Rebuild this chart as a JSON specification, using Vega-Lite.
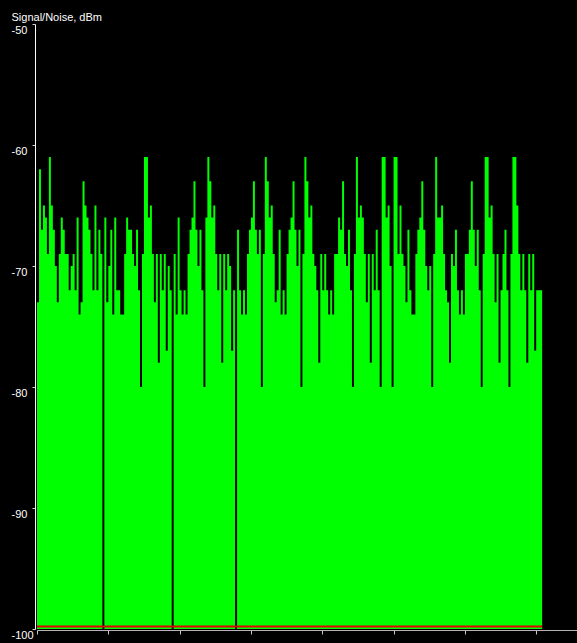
{
  "$schema": "https://vega.github.io/schema/vega-lite/v6.json",
  "width": 540,
  "height": 605,
  "autosize": {"type": "none"},
  "padding": {"left": 37, "top": 24, "right": 0, "bottom": 14},
  "background": "#000000",
  "config": {"view": {"stroke": null}, "axis": {"grid": false}},
  "data": {"values": [
    {"i":0,"v":-73},{"i":1,"v":-62},{"i":2,"v":-67},{"i":3,"v":-65},{"i":4,"v":-66},{"i":5,"v":-69},{"i":6,"v":-61},{"i":7,"v":-65},{"i":8,"v":-67},{"i":9,"v":-70},
    {"i":10,"v":-73},{"i":11,"v":-69},{"i":12,"v":-66},{"i":13,"v":-67},{"i":14,"v":-69},{"i":15,"v":-69},{"i":16,"v":-72},{"i":17,"v":-70},{"i":18,"v":-69},{"i":19,"v":-72},
    {"i":20,"v":-66},{"i":21,"v":-74},{"i":22,"v":-73},{"i":23,"v":-63},{"i":24,"v":-65},{"i":25,"v":-66},{"i":26,"v":-67},{"i":27,"v":-69},{"i":28,"v":-72},{"i":29,"v":-65},
    {"i":30,"v":-72},{"i":31,"v":-67},{"i":32,"v":-69},{"i":33,"v":-100},{"i":34,"v":-66},{"i":35,"v":-73},{"i":36,"v":-70},{"i":37,"v":-67},{"i":38,"v":-74},{"i":39,"v":-66},
    {"i":40,"v":-72},{"i":41,"v":-72},{"i":42,"v":-74},{"i":43,"v":-74},{"i":44,"v":-69},{"i":45,"v":-66},{"i":46,"v":-67},{"i":47,"v":-67},{"i":48,"v":-69},{"i":49,"v":-70},
    {"i":50,"v":-67},{"i":51,"v":-72},{"i":52,"v":-80},{"i":53,"v":-69},{"i":54,"v":-61},{"i":55,"v":-61},{"i":56,"v":-66},{"i":57,"v":-65},{"i":58,"v":-69},{"i":59,"v":-73},
    {"i":60,"v":-69},{"i":61,"v":-78},{"i":62,"v":-69},{"i":63,"v":-72},{"i":64,"v":-69},{"i":65,"v":-77},{"i":66,"v":-70},{"i":67,"v":-72},{"i":68,"v":-100},{"i":69,"v":-69},
    {"i":70,"v":-74},{"i":71,"v":-66},{"i":72,"v":-72},{"i":73,"v":-74},{"i":74,"v":-72},{"i":75,"v":-74},{"i":76,"v":-69},{"i":77,"v":-67},{"i":78,"v":-66},{"i":79,"v":-63},
    {"i":80,"v":-67},{"i":81,"v":-70},{"i":82,"v":-67},{"i":83,"v":-72},{"i":84,"v":-80},{"i":85,"v":-66},{"i":86,"v":-61},{"i":87,"v":-63},{"i":88,"v":-66},{"i":89,"v":-65},
    {"i":90,"v":-69},{"i":91,"v":-72},{"i":92,"v":-69},{"i":93,"v":-78},{"i":94,"v":-69},{"i":95,"v":-72},{"i":96,"v":-69},{"i":97,"v":-70},{"i":98,"v":-77},{"i":99,"v":-72},
    {"i":100,"v":-100},{"i":101,"v":-67},{"i":102,"v":-72},{"i":103,"v":-74},{"i":104,"v":-72},{"i":105,"v":-74},{"i":106,"v":-69},{"i":107,"v":-67},{"i":108,"v":-66},{"i":109,"v":-63},
    {"i":110,"v":-67},{"i":111,"v":-69},{"i":112,"v":-67},{"i":113,"v":-80},{"i":114,"v":-69},{"i":115,"v":-61},{"i":116,"v":-63},{"i":117,"v":-66},{"i":118,"v":-65},{"i":119,"v":-69},
    {"i":120,"v":-73},{"i":121,"v":-72},{"i":122,"v":-67},{"i":123,"v":-74},{"i":124,"v":-72},{"i":125,"v":-74},{"i":126,"v":-69},{"i":127,"v":-67},{"i":128,"v":-66},{"i":129,"v":-63},
    {"i":130,"v":-67},{"i":131,"v":-70},{"i":132,"v":-67},{"i":133,"v":-80},{"i":134,"v":-69},{"i":135,"v":-61},{"i":136,"v":-63},{"i":137,"v":-66},{"i":138,"v":-65},{"i":139,"v":-69},
    {"i":140,"v":-70},{"i":141,"v":-72},{"i":142,"v":-78},{"i":143,"v":-69},{"i":144,"v":-72},{"i":145,"v":-69},{"i":146,"v":-72},{"i":147,"v":-74},{"i":148,"v":-72},{"i":149,"v":-74},
    {"i":150,"v":-69},{"i":151,"v":-69},{"i":152,"v":-66},{"i":153,"v":-67},{"i":154,"v":-63},{"i":155,"v":-69},{"i":156,"v":-70},{"i":157,"v":-67},{"i":158,"v":-72},{"i":159,"v":-80},
    {"i":160,"v":-69},{"i":161,"v":-61},{"i":162,"v":-66},{"i":163,"v":-65},{"i":164,"v":-66},{"i":165,"v":-69},{"i":166,"v":-73},{"i":167,"v":-69},{"i":168,"v":-78},{"i":169,"v":-69},
    {"i":170,"v":-72},{"i":171,"v":-67},{"i":172,"v":-72},{"i":173,"v":-80},{"i":174,"v":-61},{"i":175,"v":-61},{"i":176,"v":-66},{"i":177,"v":-65},{"i":178,"v":-70},{"i":179,"v":-80},
    {"i":180,"v":-61},{"i":181,"v":-61},{"i":182,"v":-69},{"i":183,"v":-65},{"i":184,"v":-69},{"i":185,"v":-70},{"i":186,"v":-73},{"i":187,"v":-67},{"i":188,"v":-72},{"i":189,"v":-74},
    {"i":190,"v":-74},{"i":191,"v":-69},{"i":192,"v":-67},{"i":193,"v":-66},{"i":194,"v":-63},{"i":195,"v":-67},{"i":196,"v":-70},{"i":197,"v":-72},{"i":198,"v":-70},{"i":199,"v":-80},
    {"i":200,"v":-69},{"i":201,"v":-61},{"i":202,"v":-66},{"i":203,"v":-66},{"i":204,"v":-65},{"i":205,"v":-69},{"i":206,"v":-72},{"i":207,"v":-73},{"i":208,"v":-78},{"i":209,"v":-69},
    {"i":210,"v":-70},{"i":211,"v":-67},{"i":212,"v":-72},{"i":213,"v":-74},{"i":214,"v":-72},{"i":215,"v":-74},{"i":216,"v":-69},{"i":217,"v":-69},{"i":218,"v":-67},{"i":219,"v":-63},
    {"i":220,"v":-67},{"i":221,"v":-70},{"i":222,"v":-67},{"i":223,"v":-72},{"i":224,"v":-80},{"i":225,"v":-69},{"i":226,"v":-61},{"i":227,"v":-61},{"i":228,"v":-66},{"i":229,"v":-65},
    {"i":230,"v":-69},{"i":231,"v":-73},{"i":232,"v":-69},{"i":233,"v":-78},{"i":234,"v":-72},{"i":235,"v":-69},{"i":236,"v":-67},{"i":237,"v":-72},{"i":238,"v":-80},{"i":239,"v":-69},
    {"i":240,"v":-61},{"i":241,"v":-61},{"i":242,"v":-65},{"i":243,"v":-69},{"i":244,"v":-72},{"i":245,"v":-69},{"i":246,"v":-72},{"i":247,"v":-78},{"i":248,"v":-69},{"i":249,"v":-72},
    {"i":250,"v":-69},{"i":251,"v":-77},{"i":252,"v":-72},{"i":253,"v":-72},{"i":254,"v":-72},{"i":255,"v":-72}
  ]},
  "layer": [
    {
      "mark": {"type": "area", "interpolate": "step-after", "color": "#00ff00"},
      "encoding": {
        "x": {
          "field": "i", "type": "quantitative", "title": null,
          "scale": {"domain": [0, 272.6], "nice": false, "zero": false},
          "axis": {"values": [0, 36, 72, 108, 144, 180, 216, 252], "labels": false, "tickSize": 4, "tickColor": "#c8c8c8", "domainColor": "#b4b4b4", "offset": 1}
        },
        "y": {
          "field": "v", "type": "quantitative", "title": "Signal/Noise, dBm",
          "scale": {"domain": [-100, -50], "nice": false, "zero": false},
          "axis": {
            "values": [-100, -90, -80, -70, -60, -50], "offset": 2, "tickSize": 3,
            "tickColor": "#d0d0d0", "domainColor": "#ffffff",
            "labelExpr": "'-' + format(abs(datum.value), 'd')",
            "labelAlign": "left", "labelBaseline": "top", "labelPadding": 21, "labelFlush": false, "labelOverlap": false,
            "labelColor": "#ffffff", "labelFont": "Liberation Sans", "labelFontSize": 11,
            "titleAngle": 0, "titleX": -24, "titleY": -4, "titleAlign": "left", "titleBaseline": "alphabetic",
            "titleColor": "#ffffff", "titleFont": "Liberation Sans", "titleFontSize": 11, "titleFontWeight": "normal"
          }
        },
        "y2": {"datum": -100}
      }
    },
    {
      "data": {"values": [{"start": 0, "end": 255, "floor": -99.8}]},
      "mark": {"type": "rule", "color": "#e00000", "strokeWidth": 2},
      "encoding": {
        "x": {"field": "start", "type": "quantitative", "title": null},
        "x2": {"field": "end"},
        "y": {"field": "floor", "type": "quantitative", "title": "Signal/Noise, dBm"}
      }
    }
  ]
}
